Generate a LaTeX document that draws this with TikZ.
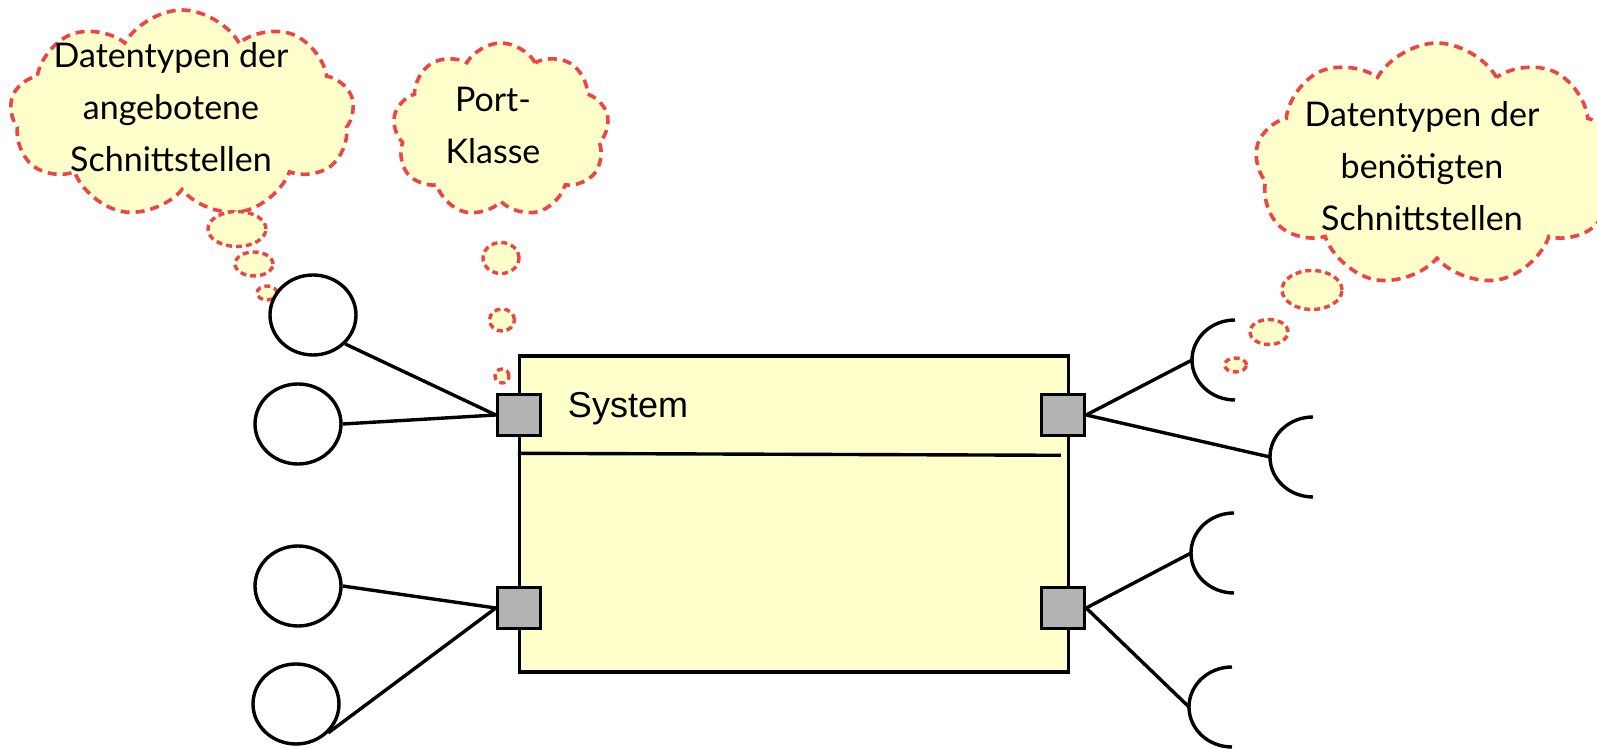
\documentclass[tikz,border=0pt]{standalone}
\usepackage{fontspec}
\setmainfont{Liberation Sans}
\newfontfamily\cloudfont{Lato}
\usetikzlibrary{shapes.geometric,shapes.symbols}
\definecolor{notefill}{HTML}{FFFFCC}
\definecolor{notered}{HTML}{EE4444}
\definecolor{portgray}{HTML}{B3B3B3}

\tikzset{
  sysbox/.style={draw, line width=1.7pt, fill=notefill, minimum width=274.5pt, minimum height=158pt},
  port/.style={draw, line width=1.7pt, fill=portgray, minimum width=21.5pt, minimum height=20.5pt, inner sep=0pt},
  iface/.style={draw, ellipse, line width=1.7pt, fill=white, minimum width=43pt, minimum height=40pt, inner sep=0pt},
  wire/.style={line width=1.7pt},
  note/.style={cloud, cloud puffs=9, cloud puff arc=120, cloud ignores aspect, draw=notered, dash pattern=on 4.5pt off 3pt, line width=1.8pt, fill=notefill, inner sep=0pt},
  bubble/.style={ellipse, draw=notered, dash pattern=on 3pt off 2pt, line width=1.7pt, fill=notefill, inner sep=0pt},
  notetext/.style={font=\cloudfont\fontsize{17}{26}\selectfont, align=center}
}

\begin{document}
\begin{tikzpicture}[x=0.5pt,y=0.5pt]
\useasboundingbox (0,0) rectangle (1597,749);

\node[note, minimum width=172pt, minimum height=104pt] (cl1) at (182,635) {};
\node[note, minimum width=108pt, minimum height=87pt] (cl2) at (501,619) {};
\node[note, minimum width=182pt, minimum height=122pt] (cl3) at (1437,584) {};

\node[notetext] (t1) at (171,642) {Datentypen der\\angebotene\\Schnittstellen};
\node[notetext] (t2) at (493,624) {Port-\\Klasse};
\node[notetext] (t3) at (1422,583) {Datentypen der\\benötigten\\Schnittstellen};

\node[bubble, minimum width=29pt, minimum height=17.5pt] (b11) at (237,520) {};
\node[bubble, minimum width=19pt, minimum height=12pt] (b12) at (254,485) {};
\node[bubble, minimum width=10pt, minimum height=7pt] (b13) at (267,456) {};

\node[bubble, minimum width=18pt, minimum height=15.5pt] (b21) at (501,491) {};
\node[bubble, minimum width=12.5pt, minimum height=11pt] (b22) at (502,429) {};
\node[bubble, minimum width=7pt, minimum height=7pt] (b23) at (502,373) {};

\node[bubble, minimum width=30pt, minimum height=19.5pt] (b31) at (1312,459) {};
\node[bubble, minimum width=19pt, minimum height=12.5pt] (b32) at (1269,417) {};
\node[bubble, minimum width=11pt, minimum height=7pt] (b33) at (1235.5,384) {};

\node[sysbox] (sys) at (794,235) {};
\node[font=\fontsize{18}{20}\selectfont] (sysname) at (628,340) {System};
\draw[wire] ([yshift=-49.5pt]sys.north west) -- ++(543,-2);

\node[port] (pl1) at (519,334) {};
\node[port] (pl2) at (519,141) {};
\node[port] (pr1) at (1063,334) {};
\node[port] (pr2) at (1063,141) {};

\node[iface] (c1) at (313,434) {};
\node[iface] (c2) at (298,325) {};
\node[iface] (c3) at (298,163) {};
\node[iface] (c4) at (296,45) {};

\draw[wire] (c1.-42) -- (pl1.west);
\draw[wire] (c2.east) -- (pl1.west);
\draw[wire] (c3.east) -- (pl2.west);
\draw[wire] (c4.-42) -- (pl2.west);

\coordinate (s1) at (1192,389);
\coordinate (s2) at (1270,292);
\coordinate (s3) at (1191,196);
\coordinate (s4) at (1189,42);

\draw[wire] (pr1.east) -- (s1);
\draw[wire] (pr1.east) -- (s2);
\draw[wire] (pr2.east) -- (s3);
\draw[wire] (pr2.east) -- (s4);

\draw[wire] (s1) ++(43,40) arc[start angle=90, end angle=270, x radius=21.5pt, y radius=20pt];
\draw[wire] (s2) ++(43,40) arc[start angle=90, end angle=270, x radius=21.5pt, y radius=20pt];
\draw[wire] (s3) ++(43,40) arc[start angle=90, end angle=270, x radius=21.5pt, y radius=20pt];
\draw[wire] (s4) ++(43,40) arc[start angle=90, end angle=270, x radius=21.5pt, y radius=20pt];
\end{tikzpicture}
\end{document}
